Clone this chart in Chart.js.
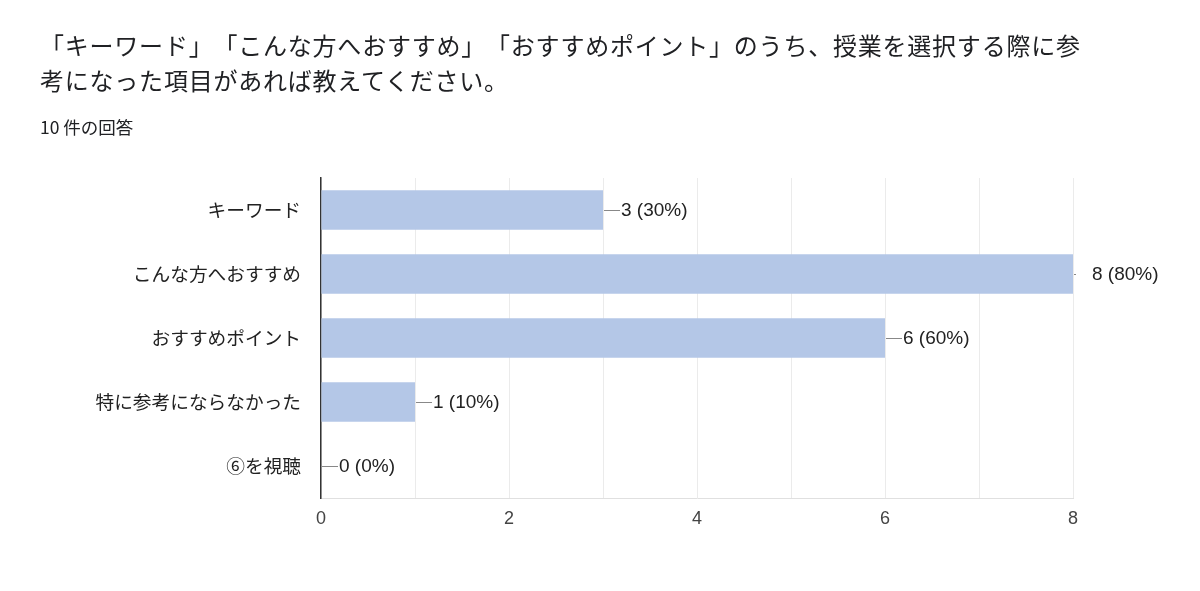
<!DOCTYPE html>
<html>
<head>
<meta charset="utf-8">
<script src="https://cdn.jsdelivr.net/npm/chart.js@4"></script>
<style>
  body { margin: 0; background: #fff; font-family: "Noto Sans CJK JP", sans-serif; }
  #wrap { position: relative; width: 1200px; height: 591px; }
  #title { position: absolute; left: 40px; top: 27px; font-size: 24px; line-height: 35px; color: #202124; letter-spacing: 0.78px; white-space: nowrap; text-spacing-trim: space-all; }
  #count { position: absolute; left: 40px; top: 114px; font-size: 17.5px; color: #202124; }
  canvas { position: absolute; left: 0; top: 0; }
</style>
</head>
<body>
<div id="wrap">
  <canvas id="chart" width="1200" height="591"></canvas>
  <div id="title">「キーワード」「こんな方へおすすめ」「おすすめポイント」のうち、授業を選択する際に参<br>考になった項目があれば教えてください。</div>
  <div id="count">10 件の回答</div>
</div>
<script>
const categories = ["キーワード", "こんな方へおすすめ", "おすすめポイント", "特に参考にならなかった", "⑥を視聴"];
const counts = [3, 8, 6, 1, 0];
const totalResponses = 10;
const xTicks = [0, 2, 4, 6, 8];

const labelFont = "19px 'Liberation Sans', Arial, 'Noto Sans CJK JP', sans-serif";

const barLabels = {
    id: "barLabels",
    afterDatasetsDraw(chart) {
        const ctx = chart.ctx;
        const meta = chart.getDatasetMeta(0);
        const xMax = chart.scales.x.max;
        ctx.save();
        ctx.font = labelFont;
        ctx.textBaseline = "middle";
        meta.data.forEach((bar, i) => {
            const v = counts[i];
            const end = bar.x;
            const atEdge = v === xMax;
            ctx.strokeStyle = "#888";
            ctx.lineWidth = 1;
            ctx.beginPath();
            ctx.moveTo(end + 1, Math.round(bar.y) + 0.5);
            ctx.lineTo(atEdge ? end + 3 : end + 17, Math.round(bar.y) + 0.5);
            ctx.stroke();
            ctx.fillStyle = "#222";
            const pct = Math.round(v / totalResponses * 100);
            ctx.fillText(`${v} (${pct}%)`, end + (atEdge ? 19 : 18), bar.y + 1);
        });
        ctx.restore();
    }
};

new Chart(document.getElementById("chart"), {
    type: "bar",
    data: {
        labels: categories,
        datasets: [{
            data: counts,
            backgroundColor: "#b4c7e7",
            borderWidth: 0,
            barPercentage: 0.62,
            categoryPercentage: 1
        }]
    },
    options: {
        indexAxis: "y",
        responsive: false,
        animation: false,
        layout: { padding: { left: 0, right: 127, top: 178, bottom: 0 } },
        plugins: { legend: { display: false }, tooltip: { enabled: false } },
        scales: {
            x: {
                min: 0,
                max: 8,
                afterFit: s => { s.height = 93; },
                ticks: {
                    stepSize: 1,
                    padding: 10,
                    color: "#444",
                    font: { size: 18, family: "'Liberation Sans', Arial, sans-serif" },
                    callback: v => xTicks.includes(v) ? String(v) : ""
                },
                grid: { color: "#ebebeb", drawTicks: false },
                border: { color: "#e0e0e0" }
            },
            y: {
                afterFit: s => { s.width = 321; },
                ticks: {
                    padding: 20,
                    color: "#222",
                    font: { size: 18.7, family: "'Noto Sans CJK JP', sans-serif" }
                },
                grid: { display: false, drawTicks: false },
                border: { color: "#333", width: 1.5 }
            }
        }
    },
    plugins: [barLabels]
});
</script>
</body>
</html>
